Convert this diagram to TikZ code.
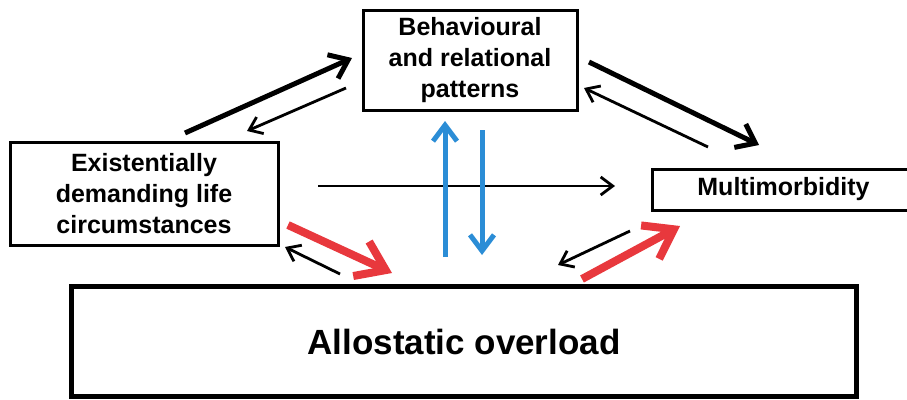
\documentclass[tikz,border=0pt]{standalone}
\usepackage{fontspec}
\setmainfont{Liberation Sans}
\usetikzlibrary{arrows.meta}
\definecolor{myred}{HTML}{E8383D}
\definecolor{myblue}{HTML}{2B8DD6}
\tikzset{
  box/.style={draw=black, line width=3pt, inner sep=0pt, align=center,
    font=\fontsize{25}{31}\selectfont\bfseries},
  thickarr/.style={line width=5pt, -{Straight Barb[length=17pt,width=26pt]}},
  thinarr/.style={line width=2.8pt, -{Straight Barb[length=12pt,width=18pt]}},
  bluearr/.style={myblue, line width=5pt, -{Straight Barb[length=16pt,width=24pt]}},
  redarr/.style={myred, line width=8pt, -{Straight Barb[length=27pt,width=38pt]}},
}
\begin{document}
\begin{tikzpicture}[x=1pt,y=-1pt]
\useasboundingbox (0,0) rectangle (907,399);
\begin{scope}
\clip (0,0) rectangle (907,399);
\node[box, minimum width=214pt, minimum height=100pt] (beh) at (470,60)
  {Behavioural\\and relational\\patterns};
\node[box, minimum width=268pt, minimum height=103pt] (exi) at (144,193.5)
  {Existentially\\demanding life\\circumstances};
\node[box, minimum width=263pt, minimum height=41pt] (mul) at (783.5,189.5)
  {Multimorbidity};
\node[box, line width=5.5pt, minimum width=785pt, minimum height=110pt,
  font=\fontsize{35}{42}\selectfont\bfseries] (all) at (464,341.5)
  {Allostatic overload};
\end{scope}
% arrow endpoints
\coordinate (a1s) at (185,133); \coordinate (a1e) at (352,58);
\coordinate (a2s) at (346,88);  \coordinate (a2e) at (247,131);
\coordinate (a3s) at (589,62);  \coordinate (a3e) at (759,145);
\coordinate (a4s) at (708,147); \coordinate (a4e) at (584,88);
\coordinate (a5s) at (318,186); \coordinate (a5e) at (615,186);
\coordinate (b1s) at (445,257); \coordinate (b1e) at (445,121);
\coordinate (b2s) at (482,130); \coordinate (b2e) at (482,255);
\coordinate (r1s) at (288,225); \coordinate (r1e) at (392,273);
\coordinate (a6s) at (340,274); \coordinate (a6e) at (285,247);
\coordinate (a7s) at (630,231); \coordinate (a7e) at (558,265);
\coordinate (r2s) at (582,279); \coordinate (r2e) at (680,226);
\draw[thickarr] (a1s) -- (a1e);
\draw[thinarr] (a2s) -- (a2e);
\draw[thickarr] (a3s) -- (a3e);
\draw[thinarr] (a4s) -- (a4e);
\draw[thinarr] (a5s) -- (a5e);
\draw[bluearr] (b1s) -- (b1e);
\draw[bluearr] (b2s) -- (b2e);
\draw[thinarr] (a6s) -- (a6e);
\draw[thinarr] (a7s) -- (a7e);
\draw[redarr] (r1s) -- (r1e);
\draw[redarr] (r2s) -- (r2e);
\end{tikzpicture}
\end{document}
